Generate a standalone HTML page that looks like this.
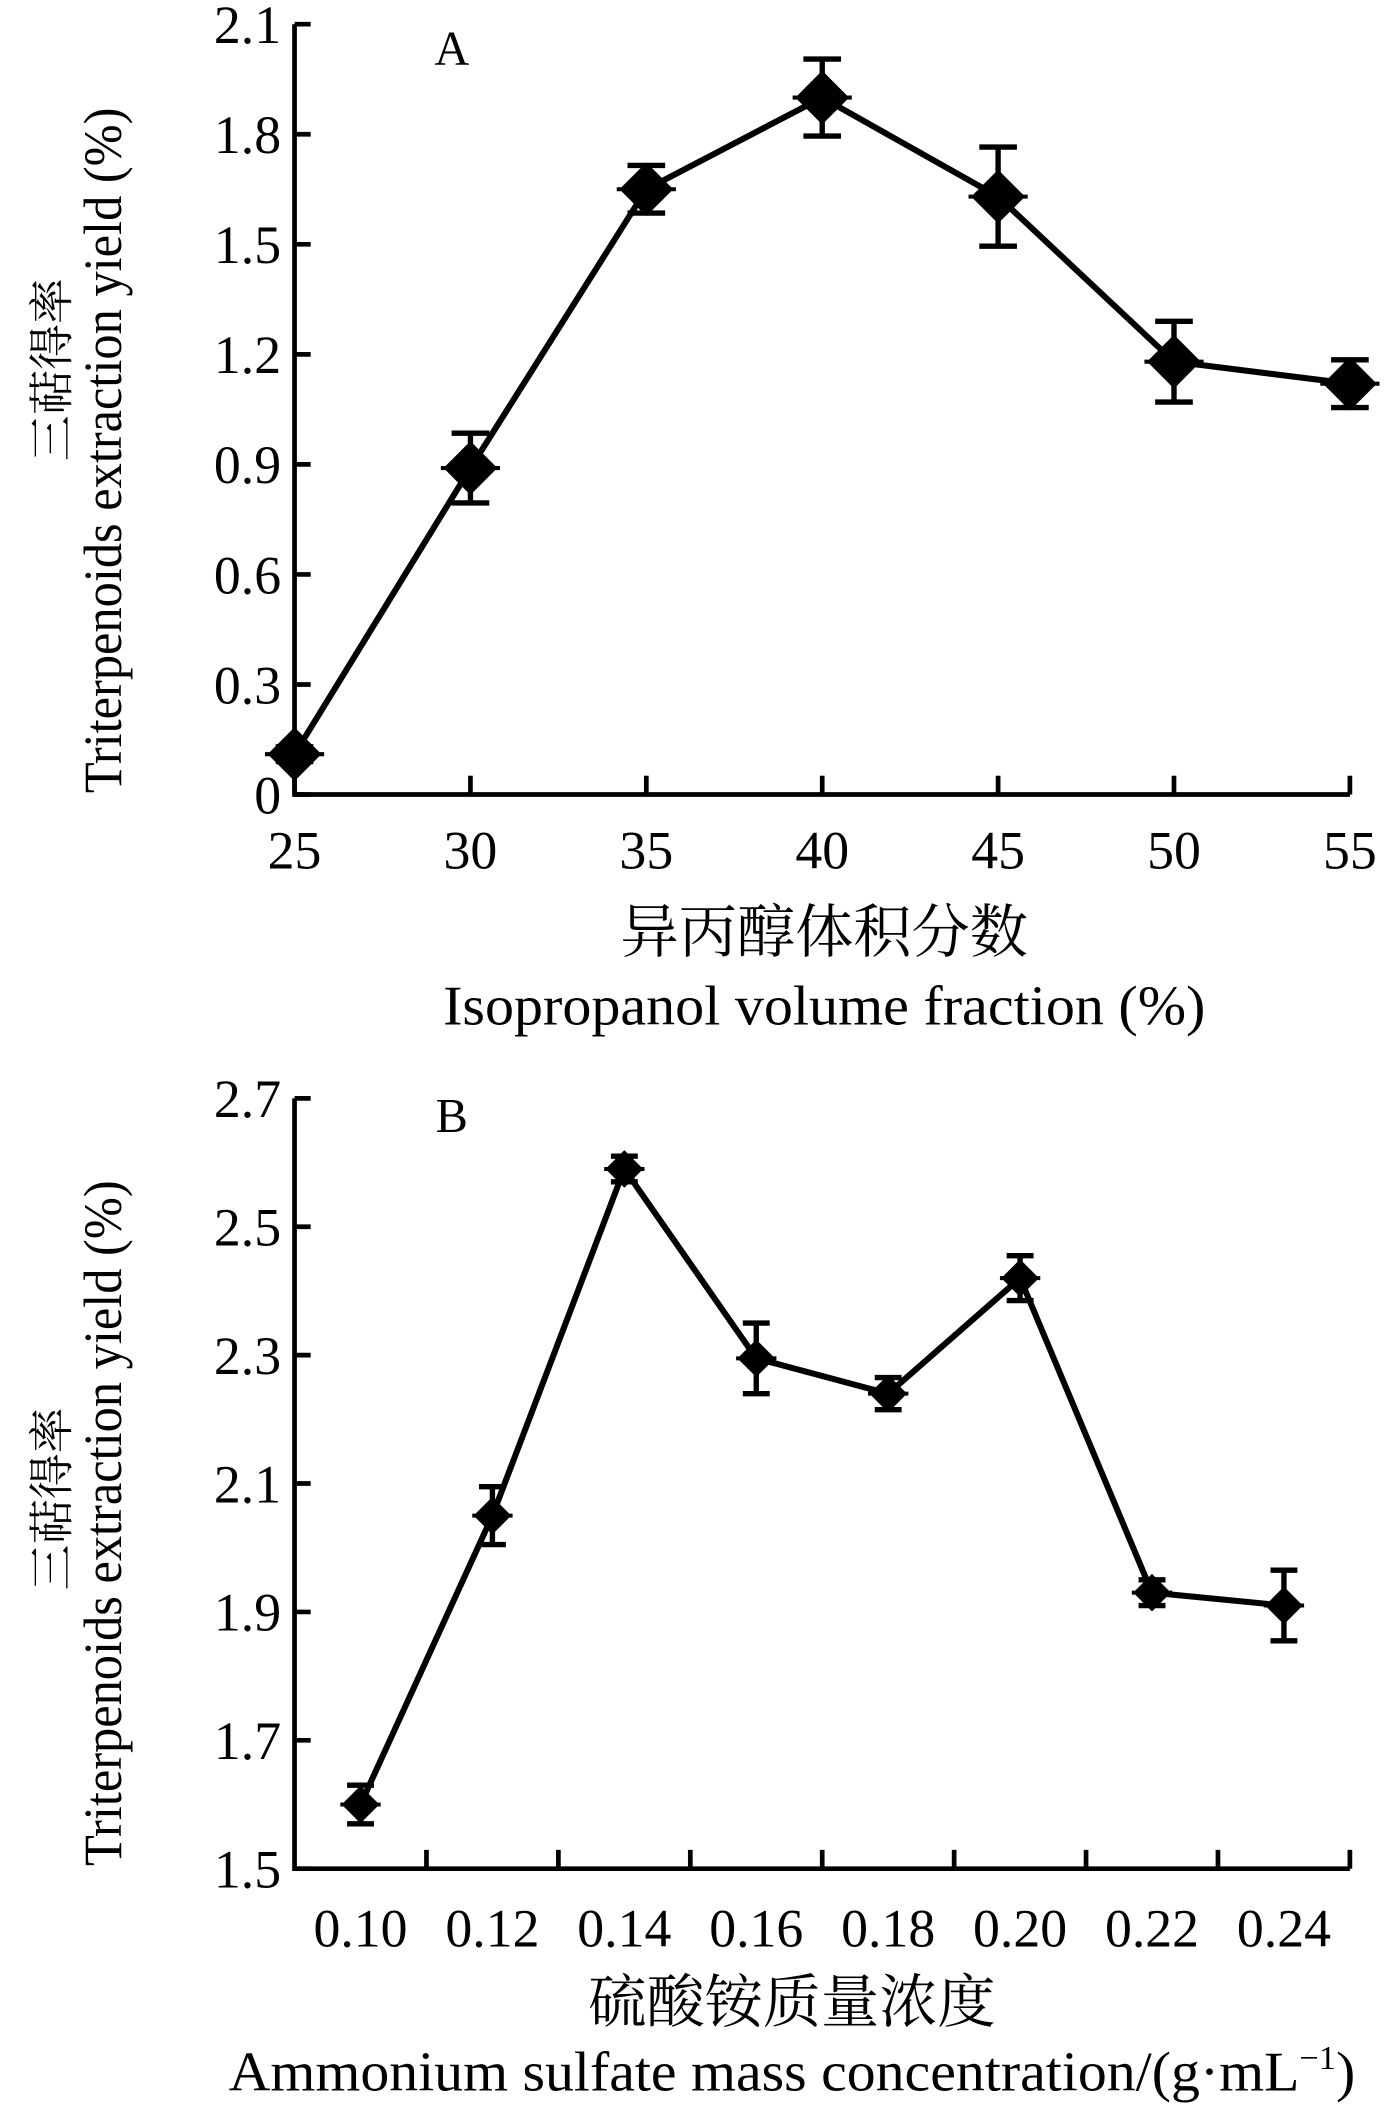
<!DOCTYPE html>
<html><head><meta charset="utf-8"><style>
html,body{margin:0;padding:0;background:#fff}
svg{display:block}
text{font-family:"Liberation Serif","Noto Serif CJK SC","Noto Sans CJK SC",serif;fill:#000}
text.cn{font-family:"Noto Serif CJK SC","Noto Sans CJK SC",serif}
</style></head><body>
<svg id="chart" width="1389" height="2108" viewBox="0 0 1033 1568" xmlns="http://www.w3.org/2000/svg"></svg>
<script>
const catsA = [25, 30, 35, 40, 45, 50, 55];
const valsA = [0.11, 0.89, 1.65, 1.90, 1.63, 1.18, 1.12];
const errA = [0.02, 0.095, 0.065, 0.105, 0.135, 0.11, 0.065];
const ticksA = [0, 0.3, 0.6, 0.9, 1.2, 1.5, 1.8, 2.1];
const tickLabelsA = ["0", "0.3", "0.6", "0.9", "1.2", "1.5", "1.8", "2.1"];

const catsB = ["0.10", "0.12", "0.14", "0.16", "0.18", "0.20", "0.22", "0.24"];
const valsB = [1.60, 2.05, 2.59, 2.295, 2.24, 2.42, 1.93, 1.91];
const errB = [0.03, 0.045, 0.02, 0.055, 0.025, 0.035, 0.02, 0.055];
const ticksB = [1.5, 1.7, 1.9, 2.1, 2.3, 2.5, 2.7];
const tickLabelsB = ["1.5", "1.7", "1.9", "2.1", "2.3", "2.5", "2.7"];

const svg = document.getElementById('chart');
const NS = 'http://www.w3.org/2000/svg';
const TS = 40;
function mk(tag, attrs, parent) {
  const e = document.createElementNS(NS, tag);
  for (const k in attrs) e.setAttribute(k, attrs[k]);
  (parent || svg).appendChild(e);
  return e;
}
function txt(x, y, s, size, anchor, parent, rot, len) {
  const t = mk('text', {x: x, y: y, 'font-size': size, 'text-anchor': anchor || 'middle'}, parent);
  if (len) { t.setAttribute('textLength', len); t.setAttribute('lengthAdjust', 'spacingAndGlyphs'); }
  if (rot) t.setAttribute('transform', 'rotate(-90 ' + x + ' ' + y + ')');
  t.textContent = s;
  return t;
}
function diamond(g, cx, cy, r) {
  return mk('polygon', {points: `${cx},${cy - r} ${cx + r},${cy} ${cx},${cy + r} ${cx - r},${cy}`, fill: '#000'}, g);
}

// ---------- Chart A ----------
(function () {
  const g = mk('g', {});
  
  
  const x0 = 219, x1 = 1004, yTop = 18, yBot = 591, vMin = 0, vMax = 2.1;
  const xs = v => x0 + (v - catsA[0]) / (catsA[catsA.length - 1] - catsA[0]) * (x1 - x0);
  const ys = v => yBot - (v - vMin) / (vMax - vMin) * (yBot - yTop);
  const ax = mk('path', {d: `M${x0},${yTop} L${x0},${yBot} L${x1},${yBot}`, stroke: '#000', 'stroke-width': 3.5, fill: 'none'}, g);
  
  
  ticksA.forEach((v, i) => {
    mk('line', {x1: x0, x2: x0 + 12, y1: ys(v), y2: ys(v), stroke: '#000', 'stroke-width': 3.5}, g);
    const t = txt(x0 - 10, ys(v) + 14, tickLabelsA[i], TS, 'end', g);
    
    
  });
  catsA.forEach(c => {
    mk('line', {x1: xs(c), x2: xs(c), y1: yBot, y2: yBot - 14, stroke: '#000', 'stroke-width': 3.5}, g);
    const t = txt(xs(c), 646, String(c), TS, 'middle', g);
    
    
  });
  const pts = catsA.map((c, i) => xs(c) + ',' + ys(valsA[i])).join(' ');
  const line = mk('polyline', {points: pts, fill: 'none', stroke: '#000', 'stroke-width': 4.5}, g);
  
  
  catsA.forEach((c, i) => {
    const cx = xs(c), cy = ys(valsA[i]);
    const eb = mk('path', {d: `M${cx},${ys(valsA[i] + errA[i])} L${cx},${ys(valsA[i] - errA[i])} M${cx - 14},${ys(valsA[i] + errA[i])} L${cx + 14},${ys(valsA[i] + errA[i])} M${cx - 14},${ys(valsA[i] - errA[i])} L${cx + 14},${ys(valsA[i] - errA[i])}`, stroke: '#000', 'stroke-width': 4, fill: 'none'}, g);
    
    
    mk('line', {x1: cx - 22, x2: cx + 22, y1: cy, y2: cy, stroke: '#000', 'stroke-width': 3}, g);
    const d = diamond(g, cx, cy, 20);
    
    
  });
  const lab = txt(336, 48, 'A', 36, 'middle', g);
  
  
  const xt1 = txt(613, 708, '异丙醇体积分数', 43, 'middle', g, false, 303);
  
  
  const xt2 = txt(613, 762, 'Isopropanol volume fraction (%)', 42, 'middle', g, false, 567);
  
  
  const yt1 = txt(50, 275, '三萜得率', 34, 'middle', g, true);
  yt1.setAttribute('class', 'cn');
  
  
  const yt2 = txt(90, 335, 'Triterpenoids extraction yield (%)', 40, 'middle', g, true, 510);
  
  
})();

// ---------- Chart B ----------
(function () {
  const g = mk('g', {});
  
  
  const x0 = 219, x1 = 1004, yTop = 817, yBot = 1390, vMin = 1.5, vMax = 2.7;
  const step = (x1 - x0) / catsB.length;
  const xs = i => x0 + step * (i + 0.5);
  const ys = v => yBot - (v - vMin) / (vMax - vMin) * (yBot - yTop);
  const ax = mk('path', {d: `M${x0},${yTop} L${x0},${yBot} L${x1},${yBot}`, stroke: '#000', 'stroke-width': 3.5, fill: 'none'}, g);
  
  
  ticksB.forEach((v, i) => {
    mk('line', {x1: x0, x2: x0 + 12, y1: ys(v), y2: ys(v), stroke: '#000', 'stroke-width': 3.5}, g);
    const t = txt(x0 - 10, ys(v) + 14, tickLabelsB[i], TS, 'end', g);
    
    
  });
  for (let i = 1; i <= catsB.length; i++) {
    mk('line', {x1: x0 + step * i, x2: x0 + step * i, y1: yBot, y2: yBot - 14, stroke: '#000', 'stroke-width': 3.5}, g);
  }
  catsB.forEach((c, i) => {
    const t = txt(xs(i), 1448, c, TS, 'middle', g);
    
    
  });
  const pts = catsB.map((c, i) => xs(i) + ',' + ys(valsB[i])).join(' ');
  const line = mk('polyline', {points: pts, fill: 'none', stroke: '#000', 'stroke-width': 4.5}, g);
  
  
  catsB.forEach((c, i) => {
    const cx = xs(i), cy = ys(valsB[i]);
    const hi = ys(valsB[i] + errB[i]), lo = ys(valsB[i] - errB[i]);
    const eb = mk('path', {d: `M${cx},${hi} L${cx},${lo} M${cx - 10},${hi} L${cx + 10},${hi} M${cx - 10},${lo} L${cx + 10},${lo}`, stroke: '#000', 'stroke-width': 4, fill: 'none'}, g);
    
    
    mk('line', {x1: cx - 15, x2: cx + 15, y1: cy, y2: cy, stroke: '#000', 'stroke-width': 3}, g);
    const d = diamond(g, cx, cy, 14);
    
    
  });
  const lab = txt(336, 842, 'B', 36, 'middle', g);
  
  
  const xt1 = txt(589, 1504, '硫酸铵质量浓度', 43, 'middle', g, false, 303);
  
  
  const xt2 = mk('text', {x: 589, y: 1555, 'font-size': 42, 'text-anchor': 'middle', textLength: 838, lengthAdjust: 'spacingAndGlyphs'}, g);
  xt2.innerHTML = 'Ammonium sulfate mass concentration/(g·mL<tspan dy="-16" font-size="25">−1</tspan><tspan dy="16">)</tspan>';
  
  
  const yt1 = txt(50, 1115, '三萜得率', 34, 'middle', g, true);
  yt1.setAttribute('class', 'cn');
  
  
  const yt2 = txt(90, 1133, 'Triterpenoids extraction yield (%)', 40, 'middle', g, true, 510);
  
  
})();
</script>
</body></html>
